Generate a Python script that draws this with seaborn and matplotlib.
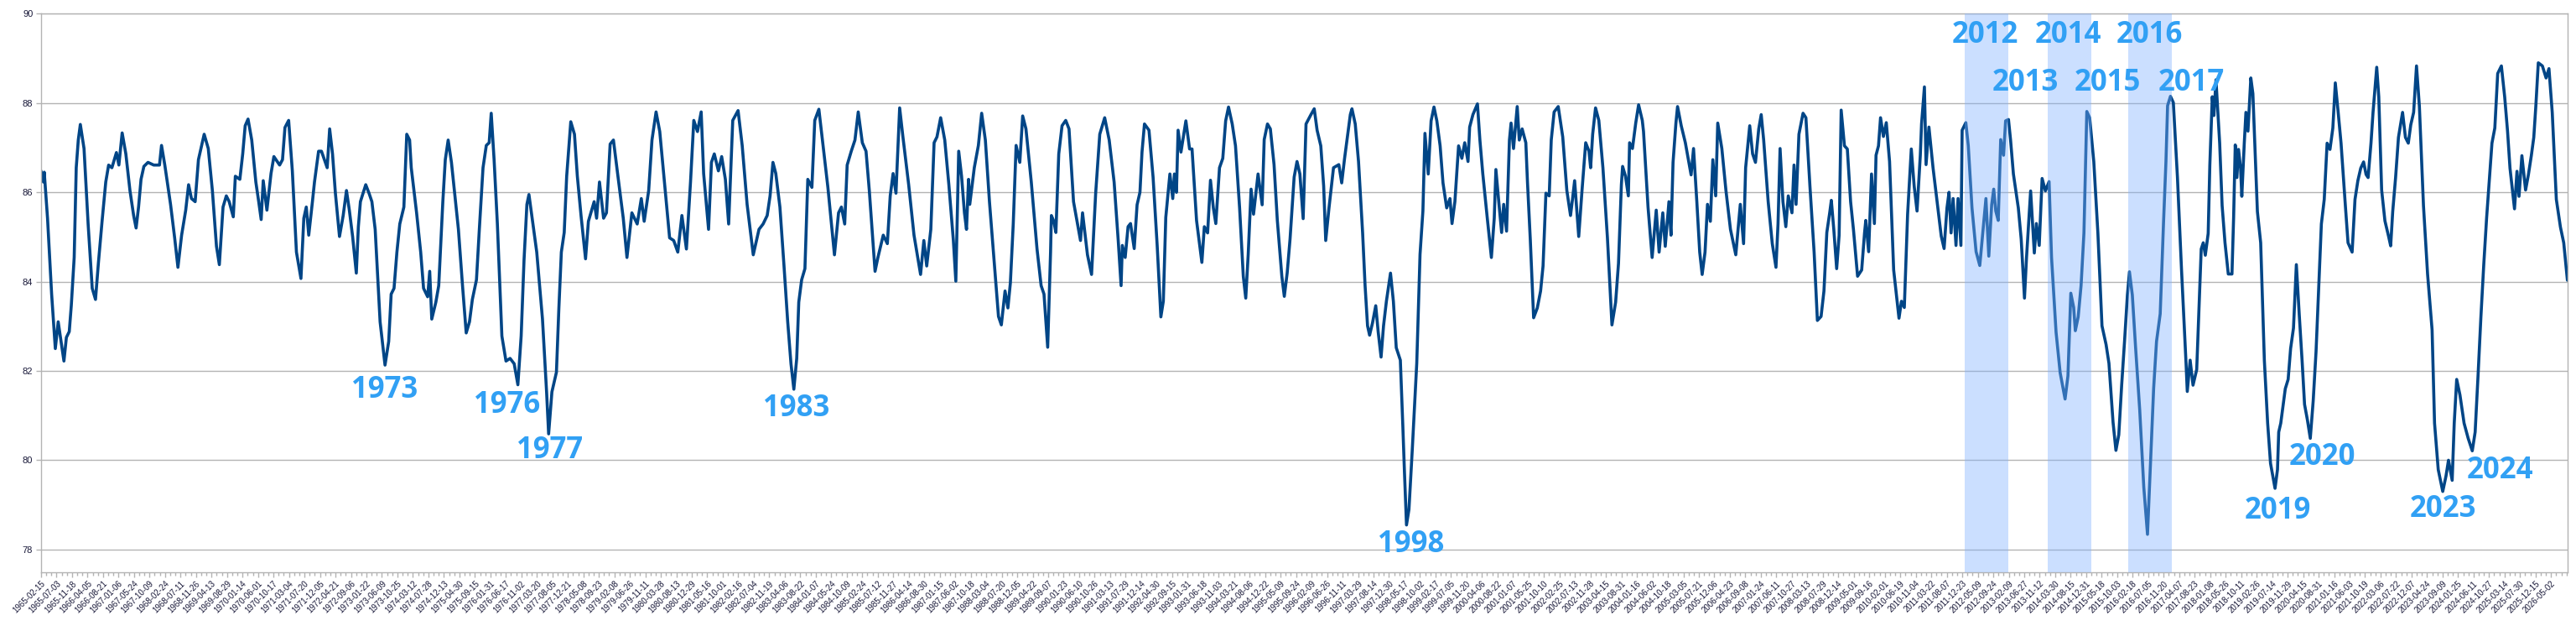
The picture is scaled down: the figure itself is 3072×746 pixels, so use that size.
import numpy as np
import pandas as pd
import seaborn as sns
import matplotlib.pyplot as plt

# readings from the chart: (decimal year, level)
seg_1965 = [(1965.12, 86.48), (1965.18, 86.23), (1965.20, 86.45), (1965.28, 85.42), (1965.38, 83.72),
            (1965.47, 82.50), (1965.54, 83.10), (1965.61, 82.66), (1965.68, 82.22), (1965.74, 82.75),
            (1965.81, 82.88), (1965.86, 83.47), (1965.93, 84.54), (1965.98, 86.55), (1966.03, 87.17),
            (1966.08, 87.52), (1966.17, 86.98), (1966.27, 85.29), (1966.37, 83.85), (1966.45, 83.60),
            (1966.52, 84.41), (1966.61, 85.35), (1966.70, 86.23), (1966.77, 86.61), (1966.85, 86.55),
            (1966.96, 86.89), (1967.02, 86.61), (1967.10, 87.33), (1967.19, 86.86), (1967.29, 86.04),
            (1967.38, 85.48), (1967.44, 85.20), (1967.50, 85.67), (1967.56, 86.29), (1967.63, 86.58),
            (1967.73, 86.67), (1967.87, 86.61), (1968.01, 86.61), (1968.06, 87.05), (1968.14, 86.61),
            (1968.28, 85.73), (1968.38, 84.98), (1968.46, 84.32), (1968.55, 85.04), (1968.65, 85.60),
            (1968.72, 86.17), (1968.79, 85.86), (1968.88, 85.79), (1968.96, 86.73), (1969.10, 87.30),
            (1969.20, 86.98), (1969.30, 86.04), (1969.40, 84.79), (1969.47, 84.38), (1969.56, 85.67),
            (1969.64, 85.92), (1969.71, 85.79), (1969.81, 85.45), (1969.86, 86.36), (1969.97, 86.29),
            (1970.04, 86.86), (1970.10, 87.49), (1970.17, 87.64), (1970.26, 87.17), (1970.36, 86.23),
            (1970.43, 85.79), (1970.49, 85.39), (1970.54, 86.26), (1970.63, 85.60), (1970.73, 86.42),
            (1970.80, 86.80), (1970.94, 86.61), (1971.01, 86.73), (1971.07, 87.45), (1971.16, 87.61),
            (1971.25, 86.48), (1971.35, 84.66), (1971.46, 84.07), (1971.53, 85.42), (1971.59, 85.67),
            (1971.65, 85.04), (1971.74, 85.79), (1971.79, 86.23), (1971.89, 86.92), (1971.96, 86.92),
            (1972.10, 86.55), (1972.16, 87.42), (1972.23, 86.86), (1972.30, 85.98), (1972.40, 85.01),
            (1972.49, 85.48), (1972.57, 86.04), (1972.64, 85.60), (1972.72, 85.01), (1972.81, 84.19),
            (1972.86, 85.23), (1972.91, 85.79), (1973.04, 86.17), (1973.12, 85.98), (1973.19, 85.79),
            (1973.27, 85.17), (1973.39, 83.10), (1973.51, 82.13), (1973.60, 82.66), (1973.66, 83.72)]

seg_1973 = [(1973.73, 83.85), (1973.80, 84.66), (1973.87, 85.29), (1973.97, 85.67), (1974.04, 87.30),
            (1974.11, 87.17), (1974.15, 86.55), (1974.28, 85.54), (1974.38, 84.66), (1974.45, 83.85),
            (1974.55, 83.66), (1974.60, 84.23), (1974.65, 83.16), (1974.75, 83.54), (1974.82, 83.91),
            (1974.92, 85.79), (1974.98, 86.73), (1975.05, 87.17), (1975.13, 86.67), (1975.30, 85.17),
            (1975.40, 83.91), (1975.49, 82.85), (1975.57, 83.10), (1975.64, 83.60), (1975.74, 84.04),
            (1975.81, 85.17), (1975.90, 86.55), (1975.98, 87.05), (1976.05, 87.11), (1976.10, 87.77),
            (1976.17, 86.73), (1976.25, 85.29), (1976.36, 82.78), (1976.46, 82.22), (1976.56, 82.28),
            (1976.66, 82.16), (1976.75, 81.69), (1976.83, 82.78), (1976.90, 84.48), (1976.97, 85.73),
            (1977.02, 85.95), (1977.09, 85.48), (1977.21, 84.66), (1977.35, 83.16), (1977.45, 81.53),
            (1977.50, 80.59), (1977.58, 81.53), (1977.69, 81.97), (1977.75, 83.41), (1977.81, 84.66),
            (1977.88, 85.10), (1977.94, 86.36), (1978.04, 87.58), (1978.13, 87.30), (1978.20, 86.36),
            (1978.29, 85.48), (1978.40, 84.51), (1978.47, 85.35), (1978.61, 85.79), (1978.67, 85.42),
            (1978.74, 86.23), (1978.84, 85.42), (1978.91, 85.54), (1979.00, 87.08), (1979.08, 87.17),
            (1979.19, 86.36), (1979.32, 85.42), (1979.41, 84.54), (1979.53, 85.54), (1979.66, 85.29),
            (1979.76, 85.86), (1979.83, 85.35), (1979.94, 86.04), (1980.02, 87.17), (1980.12, 87.80),
            (1980.21, 87.36), (1980.31, 86.36), (1980.45, 84.98), (1980.55, 84.92), (1980.65, 84.66),
            (1980.75, 85.48), (1980.86, 84.73), (1980.96, 86.23), (1981.04, 87.61), (1981.13, 87.36),
            (1981.22, 87.80), (1981.28, 86.42), (1981.40, 85.17), (1981.47, 86.67), (1981.54, 86.86),
            (1981.64, 86.48), (1981.72, 86.80), (1981.81, 86.29), (1981.89, 85.29), (1981.99, 87.61),
            (1982.12, 87.83), (1982.22, 87.05), (1982.34, 85.73), (1982.49, 84.60)]

seg_1982 = [(1982.63, 85.17), (1982.73, 85.29), (1982.83, 85.48), (1982.90, 85.92), (1982.97, 86.67),
            (1983.04, 86.42), (1983.14, 85.67), (1983.24, 84.35), (1983.33, 83.10), (1983.41, 82.16),
            (1983.48, 81.59), (1983.55, 82.28), (1983.60, 83.54), (1983.67, 84.04), (1983.75, 84.29),
            (1983.82, 86.29), (1983.92, 86.11), (1983.99, 87.61), (1984.09, 87.86), (1984.20, 86.98),
            (1984.31, 86.11), (1984.47, 84.60), (1984.57, 85.54), (1984.64, 85.67), (1984.72, 85.29),
            (1984.78, 86.61), (1984.88, 86.92), (1984.97, 87.17), (1985.05, 87.80), (1985.15, 87.11),
            (1985.24, 86.92), (1985.32, 86.04), (1985.46, 84.23), (1985.53, 84.54), (1985.66, 85.04),
            (1985.76, 84.85), (1985.83, 85.92), (1985.90, 86.42), (1985.97, 85.98), (1986.06, 87.89),
            (1986.14, 87.24), (1986.28, 86.17), (1986.41, 85.04), (1986.48, 84.66), (1986.57, 84.16),
            (1986.65, 84.92), (1986.72, 84.35), (1986.82, 85.17), (1986.90, 87.11), (1986.97, 87.24),
            (1987.06, 87.67), (1987.16, 87.17), (1987.26, 86.17), (1987.37, 84.92), (1987.43, 84.01),
            (1987.50, 86.92), (1987.57, 86.36), (1987.64, 85.54), (1987.69, 85.17), (1987.74, 86.29),
            (1987.77, 85.73), (1987.88, 86.55), (1987.98, 87.05), (1988.06, 87.77), (1988.15, 87.17),
            (1988.25, 85.79), (1988.39, 84.16), (1988.47, 83.22), (1988.54, 83.03), (1988.63, 83.79),
            (1988.70, 83.41), (1988.76, 83.97), (1988.83, 85.29), (1988.90, 87.05), (1988.99, 86.67),
            (1989.06, 87.71), (1989.14, 87.42), (1989.27, 86.23), (1989.41, 84.73), (1989.51, 83.91),
            (1989.58, 83.72), (1989.67, 82.53), (1989.74, 84.66), (1989.76, 85.48), (1989.82, 85.35),
            (1989.87, 85.10), (1989.94, 86.86), (1990.02, 87.49), (1990.11, 87.61), (1990.19, 87.42),
            (1990.30, 85.79), (1990.47, 84.92), (1990.52, 85.54), (1990.64, 84.60), (1990.74, 84.16),
            (1990.84, 85.98), (1990.94, 87.30), (1991.06, 87.67), (1991.17, 87.17), (1991.29, 86.23),
            (1991.39, 84.92), (1991.46, 83.91)]

seg_1991 = [(1991.49, 84.81), (1991.56, 84.54), (1991.63, 85.23), (1991.69, 85.30), (1991.78, 84.74),
            (1991.85, 85.72), (1991.92, 86.00), (1991.97, 86.90), (1992.03, 87.53), (1992.14, 87.39),
            (1992.24, 86.34), (1992.34, 84.81), (1992.43, 83.21), (1992.49, 83.56), (1992.55, 85.44),
            (1992.65, 86.41), (1992.72, 85.86), (1992.76, 86.41), (1992.81, 86.00), (1992.85, 87.39),
            (1992.92, 86.90), (1993.04, 87.60), (1993.13, 86.97), (1993.19, 86.97), (1993.30, 85.37),
            (1993.43, 84.43), (1993.49, 85.23), (1993.57, 85.09), (1993.64, 86.27), (1993.71, 85.65),
            (1993.77, 85.30), (1993.86, 86.55), (1993.94, 86.76), (1994.01, 87.60), (1994.08, 87.91),
            (1994.17, 87.53), (1994.25, 87.04), (1994.35, 85.65), (1994.44, 84.12), (1994.50, 83.63),
            (1994.56, 84.61), (1994.63, 86.07), (1994.69, 85.51), (1994.80, 86.41), (1994.90, 85.72),
            (1994.95, 87.18), (1995.03, 87.53), (1995.10, 87.42), (1995.19, 86.62), (1995.27, 85.37),
            (1995.38, 84.12), (1995.44, 83.67), (1995.51, 84.19), (1995.58, 84.95), (1995.68, 86.34),
            (1995.75, 86.69), (1995.82, 86.41), (1995.90, 85.41), (1995.97, 87.53), (1996.09, 87.74),
            (1996.17, 87.87), (1996.24, 87.39), (1996.33, 87.04), (1996.40, 86.14), (1996.45, 84.92),
            (1996.53, 85.65), (1996.64, 86.55), (1996.77, 86.62), (1996.84, 86.21), (1996.91, 86.76),
            (1996.98, 87.25), (1997.05, 87.74), (1997.09, 87.87), (1997.17, 87.53), (1997.25, 86.69),
            (1997.35, 85.09), (1997.41, 83.91), (1997.47, 83.01), (1997.52, 82.80), (1997.59, 83.07),
            (1997.67, 83.46), (1997.73, 82.87), (1997.80, 82.31), (1997.86, 83.01), (1997.93, 83.56),
            (1998.03, 84.19), (1998.10, 83.56), (1998.17, 82.52), (1998.27, 82.24), (1998.33, 80.78),
            (1998.37, 79.74), (1998.42, 78.55), (1998.48, 78.90), (1998.56, 80.22), (1998.67, 82.17),
            (1998.75, 84.61), (1998.82, 85.58), (1998.87, 87.32), (1998.95, 86.41), (1999.02, 87.60),
            (1999.09, 87.91), (1999.16, 87.60), (1999.24, 87.04), (1999.31, 86.21), (1999.40, 85.65),
            (1999.48, 85.86), (1999.53, 85.30), (1999.60, 85.79), (1999.69, 87.04), (1999.77, 86.76),
            (1999.84, 87.11), (1999.92, 86.69), (1999.96, 87.46), (2000.04, 87.74), (2000.15, 87.98)]

seg_2000 = [(2000.21, 87.17), (2000.28, 86.42), (2000.39, 85.42), (2000.49, 84.54), (2000.56, 85.42),
            (2000.60, 86.51), (2000.67, 85.79), (2000.74, 85.10), (2000.79, 85.73), (2000.86, 85.13),
            (2000.93, 87.17), (2000.97, 87.55), (2001.03, 86.98), (2001.12, 87.92), (2001.17, 87.17),
            (2001.24, 87.42), (2001.33, 87.11), (2001.37, 86.23), (2001.44, 84.92), (2001.52, 83.19),
            (2001.61, 83.41), (2001.69, 83.79), (2001.75, 84.35), (2001.82, 85.98), (2001.90, 85.92),
            (2001.95, 87.17), (2002.02, 87.80), (2002.12, 87.92), (2002.23, 87.24), (2002.33, 86.04),
            (2002.42, 85.48), (2002.47, 85.86), (2002.52, 86.26), (2002.62, 85.01), (2002.70, 86.04),
            (2002.79, 87.11), (2002.87, 86.92), (2002.91, 86.55), (2002.96, 87.30), (2003.03, 87.89),
            (2003.11, 87.61), (2003.21, 86.55), (2003.32, 84.98), (2003.43, 83.03), (2003.52, 83.54),
            (2003.59, 84.41), (2003.66, 86.17), (2003.69, 86.58), (2003.76, 86.36), (2003.83, 85.92),
            (2003.86, 87.11), (2003.93, 86.98), (2004.01, 87.55), (2004.08, 87.96), (2004.17, 87.61),
            (2004.20, 87.36), (2004.31, 85.67), (2004.41, 84.54), (2004.51, 85.60), (2004.58, 84.66),
            (2004.67, 85.54), (2004.73, 84.79), (2004.82, 85.79), (2004.87, 85.04), (2004.92, 86.67),
            (2004.99, 87.55), (2005.03, 87.92), (2005.12, 87.49), (2005.22, 87.11), (2005.36, 86.39),
            (2005.42, 86.98), (2005.50, 85.79), (2005.57, 84.66), (2005.63, 84.16), (2005.70, 84.66),
            (2005.76, 85.73), (2005.83, 85.35), (2005.89, 86.73), (2005.96, 85.92), (2006.01, 87.55),
            (2006.11, 86.98), (2006.21, 86.04), (2006.32, 85.17), (2006.45, 84.60), (2006.56, 85.73),
            (2006.64, 84.85), (2006.69, 86.55), (2006.79, 87.49), (2006.86, 86.86), (2006.93, 86.67),
            (2007.01, 87.42), (2007.07, 87.74), (2007.13, 87.17), (2007.24, 85.79), (2007.34, 84.85),
            (2007.43, 84.32), (2007.48, 85.29), (2007.53, 86.98), (2007.60, 85.79), (2007.67, 85.23),
            (2007.73, 85.92), (2007.82, 85.54), (2007.87, 86.61), (2007.92, 85.73), (2007.99, 87.30),
            (2008.09, 87.77), (2008.16, 87.67), (2008.26, 86.11), (2008.36, 84.66), (2008.44, 83.13),
            (2008.53, 83.22), (2008.60, 83.79), (2008.67, 85.10), (2008.74, 85.54), (2008.78, 85.82),
            (2008.84, 85.17), (2008.91, 84.29), (2008.97, 85.04)]

seg_2009 = [(2009.02, 87.84), (2009.10, 87.04), (2009.17, 86.97), (2009.25, 85.79), (2009.32, 85.16),
            (2009.42, 84.12), (2009.52, 84.26), (2009.59, 85.09), (2009.62, 85.37), (2009.69, 84.67),
            (2009.76, 86.41), (2009.83, 85.30), (2009.87, 86.83), (2009.93, 87.04), (2009.98, 87.67),
            (2010.05, 87.25), (2010.12, 87.56), (2010.20, 86.69), (2010.30, 84.26), (2010.43, 83.18),
            (2010.49, 83.56), (2010.56, 83.42), (2010.64, 85.51), (2010.73, 86.97), (2010.80, 86.14),
            (2010.87, 85.58), (2010.95, 86.83), (2010.98, 87.53), (2011.05, 88.36), (2011.09, 86.62),
            (2011.16, 87.46), (2011.26, 86.55), (2011.36, 85.79), (2011.46, 85.02), (2011.53, 84.74),
            (2011.60, 85.65), (2011.65, 86.00), (2011.70, 85.09), (2011.75, 85.86), (2011.82, 84.81),
            (2011.87, 85.86), (2011.94, 84.81), (2011.97, 87.39), (2012.06, 87.56), (2012.12, 87.04),
            (2012.21, 85.65), (2012.31, 84.67), (2012.40, 84.36), (2012.48, 85.16), (2012.55, 85.86),
            (2012.62, 84.57), (2012.69, 85.72), (2012.74, 86.07), (2012.79, 85.58), (2012.85, 85.37),
            (2012.91, 87.18), (2012.98, 86.83), (2013.03, 87.60), (2013.10, 87.63), (2013.15, 87.18),
            (2013.22, 86.41), (2013.34, 85.65), (2013.41, 84.95), (2013.49, 83.63), (2013.54, 84.54),
            (2013.64, 86.03), (2013.73, 84.64), (2013.78, 85.30), (2013.85, 84.81), (2013.92, 86.31),
            (2014.00, 86.03), (2014.09, 86.24), (2014.15, 84.54), (2014.26, 82.87), (2014.36, 81.96),
            (2014.48, 81.37), (2014.55, 81.89), (2014.62, 83.74), (2014.69, 83.42), (2014.73, 82.90),
            (2014.80, 83.21), (2014.87, 83.91), (2014.94, 85.09), (2015.01, 87.81), (2015.08, 87.67),
            (2015.18, 86.69), (2015.28, 85.09), (2015.38, 83.01), (2015.48, 82.59), (2015.55, 82.17),
            (2015.65, 80.85), (2015.72, 80.22), (2015.79, 80.57), (2015.86, 81.68), (2015.93, 82.66),
            (2016.00, 83.70), (2016.05, 84.22), (2016.12, 83.70), (2016.20, 82.52), (2016.30, 81.13),
            (2016.40, 79.39), (2016.49, 78.34), (2016.57, 80.08), (2016.64, 81.61), (2016.71, 82.66),
            (2016.80, 83.28), (2016.88, 85.30), (2016.94, 86.69), (2016.98, 87.94), (2017.05, 88.15),
            (2017.12, 88.01), (2017.22, 86.34), (2017.32, 84.26), (2017.43, 82.17), (2017.46, 81.54),
            (2017.53, 82.24), (2017.60, 81.68), (2017.69, 82.03)]

seg_2017 = [(2017.80, 84.73), (2017.85, 84.87), (2017.90, 84.59), (2017.97, 85.08), (2018.01, 86.61),
            (2018.07, 88.14), (2018.11, 87.72), (2018.16, 88.52), (2018.25, 87.10), (2018.31, 85.70),
            (2018.38, 84.87), (2018.46, 84.17), (2018.55, 84.17), (2018.59, 85.43), (2018.63, 87.06),
            (2018.67, 86.33), (2018.71, 86.96), (2018.76, 86.54), (2018.79, 85.91), (2018.85, 87.10),
            (2018.89, 87.79), (2018.94, 87.37), (2019.01, 88.56), (2019.06, 88.21), (2019.17, 85.57),
            (2019.25, 84.87), (2019.34, 82.23), (2019.42, 80.83), (2019.49, 79.93), (2019.60, 79.37),
            (2019.66, 79.79), (2019.69, 80.63), (2019.74, 80.83), (2019.85, 81.60), (2019.92, 81.81),
            (2019.98, 82.50), (2020.05, 82.96), (2020.12, 84.38), (2020.19, 83.27), (2020.26, 82.23),
            (2020.32, 81.25), (2020.39, 80.90), (2020.46, 80.49), (2020.53, 81.32), (2020.60, 82.43),
            (2020.67, 83.97), (2020.73, 85.29), (2020.80, 85.84), (2020.87, 87.10), (2020.94, 86.96),
            (2021.01, 87.44), (2021.07, 88.45), (2021.14, 87.79), (2021.21, 87.10), (2021.31, 85.77),
            (2021.38, 84.87), (2021.48, 84.66), (2021.55, 85.84), (2021.62, 86.26), (2021.69, 86.54),
            (2021.76, 86.68), (2021.82, 86.40), (2021.87, 86.33), (2021.94, 87.10), (2021.99, 87.79),
            (2022.08, 88.80), (2022.13, 88.14), (2022.20, 86.05), (2022.28, 85.36), (2022.37, 85.01),
            (2022.42, 84.80), (2022.47, 85.57), (2022.54, 86.33), (2022.61, 87.23), (2022.66, 87.51),
            (2022.71, 87.79), (2022.78, 87.23), (2022.85, 87.10), (2022.91, 87.51), (2022.98, 87.79),
            (2023.05, 88.83), (2023.12, 87.93), (2023.22, 85.70), (2023.32, 84.17), (2023.43, 82.92),
            (2023.49, 80.83), (2023.58, 79.79), (2023.69, 79.30), (2023.77, 79.65), (2023.83, 80.00),
            (2023.92, 79.55), (2023.97, 80.83), (2024.03, 81.81), (2024.11, 81.46), (2024.21, 80.83),
            (2024.31, 80.49), (2024.41, 80.21), (2024.48, 80.63), (2024.55, 81.88), (2024.62, 83.20),
            (2024.69, 84.38), (2024.76, 85.43), (2024.82, 86.19), (2024.89, 87.10), (2024.96, 87.44),
            (2025.03, 88.66), (2025.12, 88.83), (2025.20, 88.14), (2025.27, 87.37), (2025.33, 86.54),
            (2025.44, 85.63), (2025.50, 86.47), (2025.55, 85.91), (2025.62, 86.82), (2025.71, 86.05),
            (2025.78, 86.40), (2025.85, 86.82), (2025.91, 87.23), (2025.96, 87.93), (2026.02, 88.90),
            (2026.12, 88.83), (2026.21, 88.56), (2026.28, 88.77), (2026.36, 87.79), (2026.46, 85.84),
            (2026.56, 85.22), (2026.64, 84.87), (2026.73, 84.03)]

# shaded years (decimal-year start, end)
span_years = [(2012.035, 2013.098), (2014.06, 2015.12), (2016.025, 2017.09)]

# year annotations: text, decimal year, level
notes = [("1973", 1973.49, 81.57), ("1976", 1976.49, 81.23), ("1977", 1977.52, 80.21),
         ("1983", 1983.55, 81.15), ("1998", 1998.52, 78.11),
         ("2012", 2012.53, 89.52), ("2013", 2013.51, 88.45), ("2014", 2014.55, 89.52),
         ("2015", 2015.51, 88.45), ("2016", 2016.53, 89.52), ("2017", 2017.56, 88.45),
         ("2019", 2019.66, 78.86), ("2020", 2020.75, 80.06), ("2023", 2023.69, 78.90),
         ("2024", 2025.08, 79.76)]

start = pd.Timestamp("1965-02-15")


def to_date(y):
    return start + pd.to_timedelta((np.asarray(y) - 1965.123) * 365.25, unit="D")


points = seg_1965 + seg_1973 + seg_1982 + seg_1991 + seg_2000 + seg_2009 + seg_2017
years, level = zip(*points)
df = pd.DataFrame({"date": to_date(list(years)), "level": list(level)})

sns.set_theme(style="white")
plt.rcParams["font.family"] = ["Liberation Sans", "DejaVu Sans"]

W, H = 3072, 746
fig = plt.figure(figsize=(W / 100, H / 100), dpi=100)
ax = fig.add_axes([49 / W, 1 - 682 / H, (3062 - 49) / W, (682 - 16.3) / H])

sns.lineplot(data=df, x="date", y="level", color="#004586", linewidth=2.6, ax=ax, zorder=2)

for a, b in span_years:
    ax.axvspan(to_date(a), to_date(b), color=(127 / 255, 177 / 255, 1.0), alpha=0.4, lw=0, zorder=3)

for s, yx, yv in notes:
    ax.text(to_date(yx), yv, s, fontsize=25, color="#31a0f4", ha="center", va="center",
            family=["Open Sans", "DejaVu Sans"], fontweight="bold", zorder=5)

ax.set_ylim(77.49, 90)
ax.set_yticks(np.arange(78, 91, 2))
ax.yaxis.grid(True, color="#b3b3b3", linewidth=1)
ax.set_axisbelow(True)

ax.set_xlim(to_date(1965.123), to_date(2026.735))
major = pd.date_range(start, periods=163, freq="138D")
minor = pd.date_range(start, to_date(2026.73), freq="46D")
ax.set_xticks(major)
ax.set_xticks(minor, minor=True)
ax.set_xticklabels([d.strftime("%Y-%m-%d") for d in major], rotation=45, ha="right", va="top",
                   rotation_mode="anchor", fontsize=7, color="#1a1a3a")
ax.tick_params(axis="x", which="major", length=4, width=1, color="#b3b3b3", pad=2, bottom=True)
ax.tick_params(axis="x", which="minor", length=3, width=1, color="#b3b3b3", bottom=True)
ax.tick_params(axis="y", length=4, width=1, color="#b3b3b3", labelsize=8, labelcolor="#1a1a3a",
               pad=3, left=True)

for sp in ax.spines.values():
    sp.set_color("#b3b3b3")
    sp.set_linewidth(1)

ax.set_xlabel("")
ax.set_ylabel("")

fig.savefig("out.png", dpi=100)
